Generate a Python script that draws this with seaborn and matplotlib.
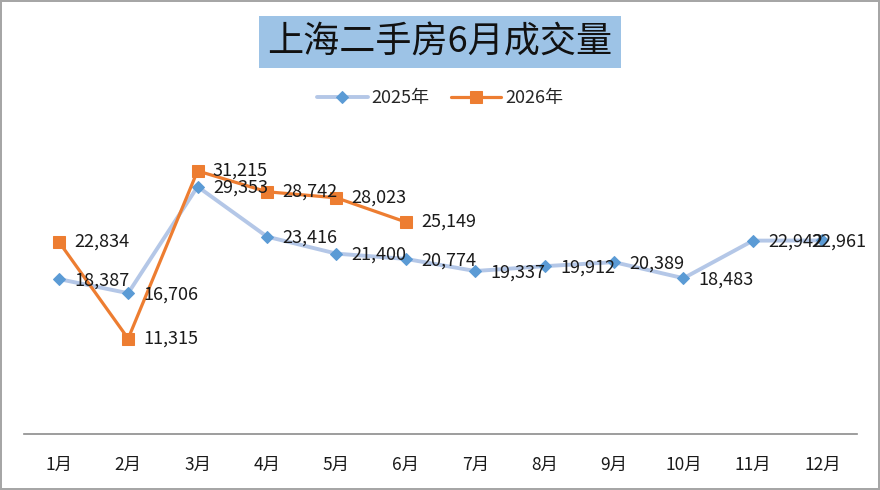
import matplotlib
matplotlib.use("Agg")
import matplotlib.pyplot as plt
import seaborn as sns
import numpy as np

months = ["1月", "2月", "3月", "4月", "5月", "6月", "7月", "8月", "9月", "10月", "11月", "12月"]
sales_2025 = [18387, 16706, 29353, 23416, 21400, 20774, 19337, 19912, 20389, 18483, 22942, 22961]
sales_2026 = [22834, 11315, 31215, 28742, 28023, 25149]
title = "上海二手房6月成交量"

sns.set_theme(style="white")
plt.rcParams['font.family'] = ['Noto Sans CJK SC', 'DejaVu Sans']

fig = plt.figure(figsize=(8.8, 4.9), dpi=100, facecolor="white", edgecolor="#A6A6A6", linewidth=1.5)
ax = fig.add_axes([0.0273, 0.1143, 0.9466, 0.602])

x25 = np.arange(len(sales_2025))
x26 = np.arange(len(sales_2026))

sns.lineplot(x=x25, y=sales_2025, ax=ax, color="#B4C7E7", linewidth=2.8,
             marker="D", markersize=6.5, markerfacecolor="#5B9BD5", markeredgecolor="#5B9BD5",
             label="2025年")
sns.lineplot(x=x26, y=sales_2026, ax=ax, color="#ED7D31", linewidth=2.3,
             marker="s", markersize=8, markerfacecolor="#ED7D31", markeredgecolor="#ED7D31",
             label="2026年")

n = len(sales_2025)
for i, v in zip(x25, sales_2025):
    dx = 11 if i < n - 1 else -8
    ax.annotate(f"{v:,}", (i, v), xytext=(dx, -1), textcoords="offset points",
                va="center", ha="left", fontsize=13, color="#1a1a1a")
for i, v in zip(x26, sales_2026):
    ax.annotate(f"{v:,}", (i, v), xytext=(11, 0), textcoords="offset points",
                va="center", ha="left", fontsize=13, color="#1a1a1a")

ax.set_xlim(-0.5, 11.5)
ax.set_ylim(0, 35000)
ax.set_xticks(x25)
ax.set_xticklabels(months, fontsize=12.5, color="#1a1a1a")
ax.set_yticks([])
ax.tick_params(axis="x", length=0, pad=16)
for s in ["top", "left", "right"]:
    ax.spines[s].set_visible(False)
ax.spines["bottom"].set_color("#8C8C8C")
ax.spines["bottom"].set_linewidth(1.2)
ax.set_xlabel("")
ax.set_ylabel("")

leg = ax.legend(loc="center", bbox_to_anchor=(0.5, 0.8), bbox_transform=fig.transFigure,
                ncol=2, frameon=False, fontsize=13, handlelength=2.8, columnspacing=1.2,
                handletextpad=0.2)

fig.text(0.5, 0.914, title, ha="center", va="center", fontsize=26, color="#111111",
         fontweight="medium",
         bbox=dict(boxstyle="square,pad=0.22", facecolor="#9DC3E6", edgecolor="none"))

fig.savefig("out.png", dpi=100, facecolor=fig.get_facecolor(), edgecolor=fig.get_edgecolor())
